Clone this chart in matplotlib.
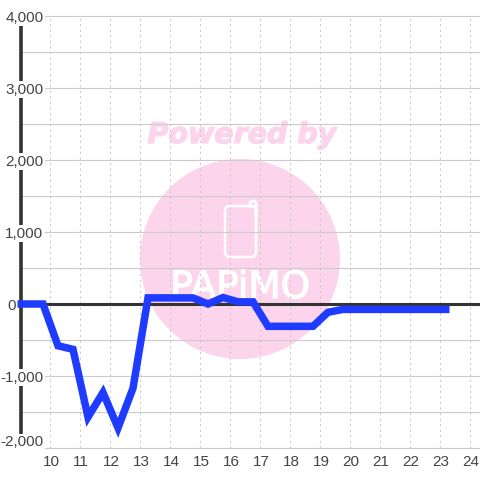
import matplotlib
matplotlib.use("Agg")
import matplotlib.pyplot as plt
import matplotlib.patheffects as pe
from matplotlib.lines import Line2D
from matplotlib.patches import Circle, FancyBboxPatch
from matplotlib.transforms import Affine2D

# half hour samples
hours = [8.9, 9.75, 10.25, 10.75, 11.25, 11.75, 12.25, 12.75, 13.25, 13.75, 14.25, 14.75,
         15.25, 15.75, 16.25, 16.75, 17.25, 17.75, 18.25, 18.75, 19.25, 19.75, 20.25,
         20.75, 21.25, 21.75, 22.25, 22.75, 23.3]
values = [0, 0, -580, -630, -1570, -1230, -1720, -1170, 85, 85, 85, 85,
          0, 90, 30, 30, -310, -310, -310, -310, -115, -75, -75,
          -75, -75, -75, -75, -75, -75]

x_ticks = list(range(10, 25))
y_ticks = [4000, 3000, 2000, 1000, 0, -1000, -2000]
y_labels = ["4,000", "3,000", "2,000", "1,000", "0", "-1,000", "-2,000"]
y_minor = [3500, 2500, 1500, 500, -500, -1500]

plt.rcParams["font.family"] = "Liberation Sans"

fig = plt.figure(figsize=(4.8, 4.8), dpi=100)
ax = fig.add_axes([20.5 / 480, 32 / 480, 459.5 / 480, 432 / 480])
ax.set_xlim(9, 24.317)
ax.set_ylim(-2000, 4000)
ax.patch.set_visible(False)
ax.set_zorder(5)

# watermark is placed in pixels, y counted from the top
px = Affine2D().scale(1, -1).translate(0, 480)
pink = "#fcd5ec"
fig.patches.append(Circle((240, 259), 100, color=pink, lw=0, transform=px, figure=fig, zorder=0))
fig.patches.append(FancyBboxPatch((225, 206), 31, 51, boxstyle="round,pad=0,rounding_size=5", fc="none",
                                  ec="white", lw=1.8, transform=px, figure=fig, zorder=1))
fig.add_artist(Line2D([250, 250, 252, 254, 256, 256], [206, 203, 201, 201, 203, 215], color="white", lw=2.2,
                      transform=px, zorder=1))
fig.text(242 / 480, 1 - 135 / 480, "Powered by", color=pink, fontsize=20.5, fontweight="bold",
         fontstyle="italic", ha="center", va="center", zorder=1, family="DejaVu Sans",
         path_effects=[pe.withStroke(linewidth=1, foreground=pink)])
fig.text(240 / 480, 1 - 288 / 480, "PAPiMO", color="white", fontsize=27, ha="center", va="center",
         zorder=1, family="DejaVu Sans", path_effects=[pe.withStroke(linewidth=0.9, foreground="white")])

for v in y_ticks + y_minor:
    ax.plot([9, 24.317], [v, v], color="#cccccc", lw=0.85, zorder=1, clip_on=False)
for t in x_ticks:
    ax.plot([t, t], [-2000, 4000], color="#cccccc", lw=0.8, ls=(0, (2, 3)), zorder=1)

ax.axhline(0, color="#333333", lw=2.2, zorder=2)
ax.plot([9, 9], [-2000, 4000], color="#333333", lw=2.6, zorder=2, clip_on=False)
ax.plot(hours, values, color="#1f3bff", lw=5.4, solid_joinstyle="miter", solid_capstyle="butt",
        zorder=3, clip_on=False)

for s in ax.spines.values():
    s.set_visible(False)
ax.set_xticks([])
ax.set_yticks([])

white = dict(fc="white", ec="none", pad=1)
for v, lab in zip(y_ticks, y_labels):
    x_px = 16 if v == 0 else 43.5
    y_px = 442 if v == -2000 else 305.5 - v * 0.072
    fig.text(x_px / 480, 1 - y_px / 480, lab, color="#444444", fontsize=11, ha="right",
             va="center", bbox=white, zorder=6)
for t in x_ticks:
    ax.annotate(str(t), (t, -2000), xytext=(0.5, -10), textcoords="offset points", color="#444444",
                fontsize=11, ha="center", va="center", annotation_clip=False)

fig.savefig("out.png", dpi=100)
